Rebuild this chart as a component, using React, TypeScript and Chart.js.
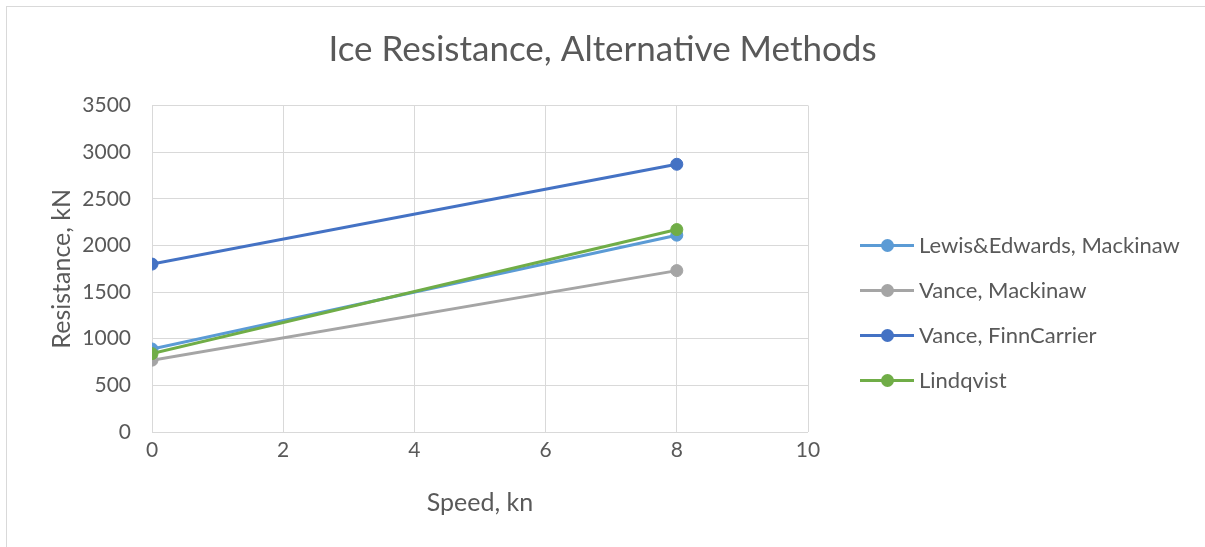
import React, { useEffect, useRef } from "react";
import { Chart, registerables } from "chart.js";

Chart.register(...registerables);

// Speed (kn) at which each method was evaluated
const speeds = [0, 8];

// Ice resistance (kN) per method
const lewisEdwardsMackinaw = [890, 2110];
const vanceMackinaw = [770, 1730];
const vanceFinnCarrier = [1800, 2870];
const lindqvist = [840, 2170];

const seriesNames = [
  "Lewis&Edwards, Mackinaw",
  "Vance, Mackinaw",
  "Vance, FinnCarrier",
  "Lindqvist",
];
const seriesColors = ["#5B9BD5", "#A5A5A5", "#4472C4", "#70AD47"];
const seriesValues = [lewisEdwardsMackinaw, vanceMackinaw, vanceFinnCarrier, lindqvist];

const chartTitle = "Ice Resistance, Alternative Methods";
const xAxisTitle = "Speed, kn";
const yAxisTitle = "Resistance, kN";

const W = 1205;
const H = 547;
const FONT = "Lato, 'Open Sans', sans-serif";
const TEXT = "#595959";
const GRID = "#D9D9D9";

export default function App() {
  const canvasRef = useRef<HTMLCanvasElement | null>(null);

  useEffect(() => {
    document.documentElement.style.overflow = "hidden";
    const canvas = canvasRef.current;
    if (!canvas) return;

    const datasets = seriesNames.map((name, i) => ({
      label: name,
      data: speeds.map((s, j) => ({ x: s, y: seriesValues[i][j] })),
      borderColor: seriesColors[i],
      backgroundColor: seriesColors[i],
      pointBackgroundColor: seriesColors[i],
      pointBorderColor: seriesColors[i],
      borderWidth: 3,
      pointRadius: 6,
      pointBorderWidth: 1,
      yAxisID: "y",
      // later series are painted above earlier ones
      order: seriesNames.length - i,
    }));

    const chart = new Chart(canvas, {
      type: "line",
      data: { datasets },
      options: {
        animation: false,
        responsive: false,
        devicePixelRatio: 1,
        layout: { padding: 0 },
        plugins: {
          legend: { display: false },
          tooltip: { enabled: false },
          title: {
            display: true,
            text: chartTitle,
            color: TEXT,
            font: { family: FONT, size: 35, weight: "normal" },
            padding: { top: 29, bottom: 34.5 },
          },
        },
        scales: {
          x: {
            type: "linear",
            min: 0,
            max: 10,
            afterFit: (scale: any) => {
              scale.height = 115;
            },
            ticks: {
              stepSize: 2,
              color: TEXT,
              font: { family: FONT, size: 21 },
              padding: 6,
              callback: (v: any) => String(v),
            },
            grid: { color: GRID, lineWidth: 1, drawTicks: false },
            border: { display: false },
            title: {
              display: true,
              text: xAxisTitle,
              color: TEXT,
              font: { family: FONT, size: 25 },
              padding: { top: 0, bottom: 29 },
            },
          },
          y: {
            type: "linear",
            min: 0,
            max: 3500,
            afterFit: (scale: any) => {
              scale.width = 152;
            },
            ticks: {
              stepSize: 500,
              color: TEXT,
              font: { family: FONT, size: 21 },
              padding: 21,
              callback: (v: any) => String(v),
            },
            grid: { color: GRID, lineWidth: 1, drawTicks: false },
            border: { display: false },
            title: {
              display: true,
              text: yAxisTitle,
              color: TEXT,
              font: { family: FONT, size: 25 },
              padding: { top: 47, bottom: 0 },
            },
          },
          // empty right-hand band that holds the legend
          legendBand: {
            type: "linear",
            position: "right",
            display: true,
            afterFit: (scale: any) => {
              scale.width = 397;
            },
            ticks: { display: false },
            grid: { display: false },
            border: { display: false },
          },
        },
      },
    });

    return () => {
      chart.destroy();
    };
  }, []);

  const legendTop = 245;
  const legendStep = 45;

  return (
    <div style={{ position: "fixed", left: 0, top: 0, width: W, height: H, background: "#fff" }}>
      <div
        style={{
          position: "absolute",
          left: 6,
          top: 6,
          width: W,
          height: H,
          borderLeft: `1px solid ${GRID}`,
          borderTop: `1px solid ${GRID}`,
        }}
      />
      <canvas ref={canvasRef} width={W} height={H} style={{ position: "absolute", left: 0, top: 0 }} />
      {seriesNames.map((name, i) => {
        const cy = legendTop + i * legendStep;
        return (
          <div key={name}>
            <div
              style={{
                position: "absolute",
                left: 860,
                top: cy - 1.5,
                width: 54,
                height: 3,
                background: seriesColors[i],
              }}
            />
            <div
              style={{
                position: "absolute",
                left: 881,
                top: cy - 6.5,
                width: 13,
                height: 13,
                borderRadius: "50%",
                background: seriesColors[i],
              }}
            />
            <div
              style={{
                position: "absolute",
                left: 919,
                top: cy - 15,
                height: 30,
                lineHeight: "30px",
                fontFamily: FONT,
                fontSize: 22,
                color: TEXT,
                whiteSpace: "nowrap",
              }}
            >
              {name}
            </div>
          </div>
        );
      })}
    </div>
  );
}
